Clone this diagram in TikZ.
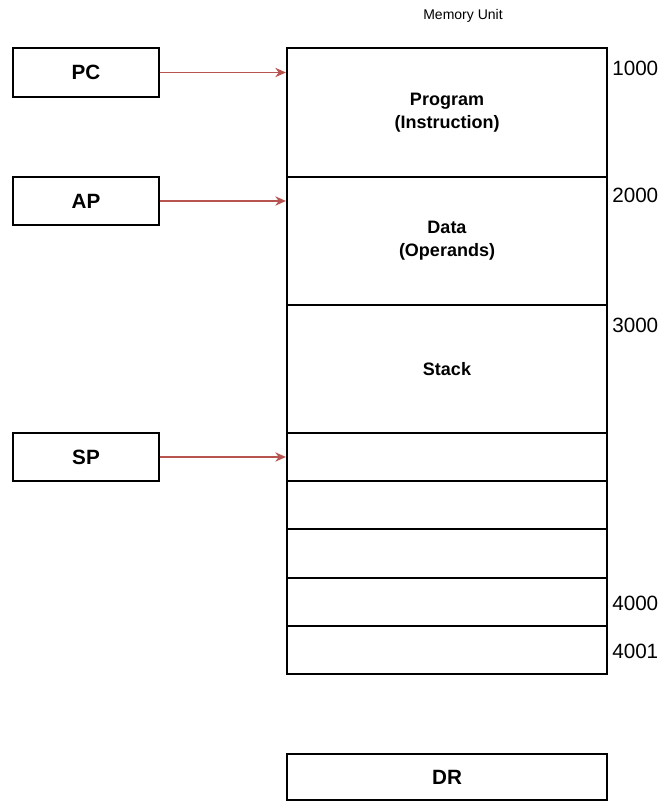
\documentclass[tikz,border=0pt]{standalone}
\usepackage{fontspec}
\setmainfont{Liberation Sans}
\usetikzlibrary{arrows.meta}
\definecolor{linkred}{RGB}{184,84,80}
\tikzset{
  cell/.style={draw=black, line width=1.6pt, fill=white, minimum width=240pt,
    inner sep=0pt, font=\bfseries\fontsize{13.5}{17}\selectfont, align=center},
  reg/.style={draw=black, line width=1.6pt, fill=white, minimum width=109.5pt,
    minimum height=36pt, inner sep=0pt, font=\bfseries\fontsize{15.5}{18}\selectfont},
  addr/.style={anchor=west, inner sep=0pt, font=\fontsize{15.5}{18}\selectfont},
  link/.style={draw=linkred, line width=0.9pt, -{Stealth[length=8pt,width=7pt]}}
}
\begin{document}
\begin{tikzpicture}[x=0.75pt,y=-0.75pt]
\useasboundingbox (0,0) rectangle (665,802);

% memory title
\node[inner sep=0pt, font=\fontsize{10.5}{12}\selectfont] (title) at (463,16) {Memory Unit};

% memory cells
\node[cell, minimum height=96.75pt] (prog)  at (447,112.5) {Program\\(Instruction)};
\node[cell, minimum height=96pt]    (data)  at (447,241)   {Data\\(Operands)};
\node[cell, minimum height=96pt]    (stack) at (447,369)   {Stack};
\node[cell, minimum height=36pt]    (s1)    at (447,457)   {};
\node[cell, minimum height=36pt]    (s2)    at (447,505)   {};
\node[cell, minimum height=36.75pt] (s3)    at (447,553.5) {};
\node[cell, minimum height=36pt]    (s4)    at (447,602)   {};
\node[cell, minimum height=36pt]    (s5)    at (447,650)   {};

% addresses
\node[addr] (a1000) at (612,68)  {1000};
\node[addr] (a2000) at (612,195) {2000};
\node[addr] (a3000) at (612,325) {3000};
\node[addr] (a4000) at (612,603) {4000};
\node[addr] (a4001) at (612,651) {4001};

% registers
\node[reg, minimum height=36.75pt] (pc) at (86,72.5) {PC};
\node[reg] (ap) at (86,201) {AP};
\node[reg] (sp) at (86,457) {SP};
\node[cell, minimum height=34.5pt, font=\bfseries\fontsize{15.5}{18}\selectfont] (dr) at (447,777) {DR};

% pointers into memory
\draw[link] (pc.east) -- (pc.east -| prog.west);
\draw[link] (ap.east) -- (ap.east -| data.west);
\draw[link] (sp.east) -- (sp.east -| s1.west);
\end{tikzpicture}
\end{document}
